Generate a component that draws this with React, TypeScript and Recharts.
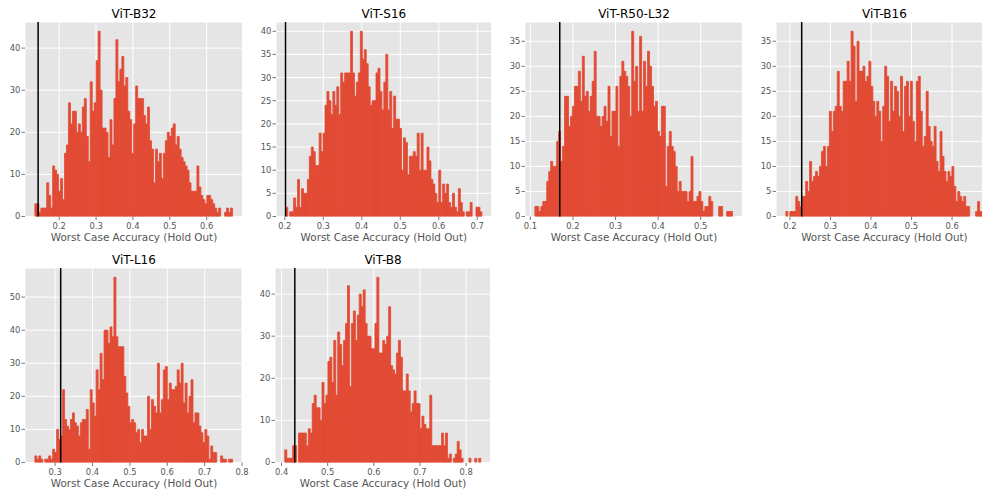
import React from 'react';
import { BarChart, Bar, XAxis, YAxis, CartesianGrid, ReferenceLine } from 'recharts';

const titles = ['ViT-B32', 'ViT-S16', 'ViT-R50-L32', 'ViT-B16', 'ViT-L16', 'ViT-B8'];
const xLabel = 'Worst Case Accuracy (Hold Out)';

// histogram range (first bin left edge, last bin right edge)
const binLow = [0.134, 0.2026, 0.1106, 0.19, 0.246, 0.407];
const binHigh = [0.67, 0.712, 0.5746, 0.6776, 0.7745, 0.8317];
// vertical black reference line
const cutoffs = [0.1428, 0.2018, 0.169, 0.229, 0.315, 0.4287];

const xTickSets = [
  [0.2, 0.3, 0.4, 0.5, 0.6],
  [0.2, 0.3, 0.4, 0.5, 0.6, 0.7],
  [0.1, 0.2, 0.3, 0.4, 0.5],
  [0.2, 0.3, 0.4, 0.5, 0.6],
  [0.3, 0.4, 0.5, 0.6, 0.7, 0.8],
  [0.4, 0.5, 0.6, 0.7, 0.8],
];
const yTickSets = [
  [0, 10, 20, 30, 40],
  [0, 5, 10, 15, 20, 25, 30, 35, 40],
  [0, 5, 10, 15, 20, 25, 30, 35],
  [0, 5, 10, 15, 20, 25, 30, 35],
  [0, 10, 20, 30, 40, 50],
  [0, 10, 20, 30, 40],
];

const countsB32 = [
  3, 3, 1, 2, 2, 2, 8, 5, 2, 12,
  11, 10, 6, 9, 4, 15, 17, 27, 22, 25,
  25, 20, 22, 20, 26, 28, 19, 13, 32, 25,
  27, 37, 44, 30, 21, 21, 20, 14, 23, 17,
  28, 42, 32, 35, 38, 31, 33, 25, 23, 15,
  22, 31, 28, 28, 28, 24, 22, 26, 18, 16,
  8, 16, 13, 15, 9, 15, 18, 20, 19, 21,
  22, 17, 19, 16, 14, 13, 12, 11, 8, 6,
  6, 6, 12, 7, 5, 4, 3, 5, 5, 4,
  3, 2, 1, 2, 0, 0, 1, 2, 1, 2,
];
const countsS16 = [
  2, 0, 1, 1, 4, 2, 8, 2, 6, 5,
  5, 8, 13, 15, 14, 11, 11, 18, 14, 18,
  24, 27, 25, 22, 27, 24, 28, 22, 31, 29,
  31, 31, 31, 40, 31, 26, 29, 31, 40, 34,
  36, 33, 28, 24, 25, 25, 31, 32, 27, 23,
  29, 35, 23, 27, 19, 26, 21, 21, 19, 10,
  17, 16, 9, 13, 13, 14, 13, 18, 10, 18,
  10, 10, 15, 12, 8, 7, 5, 3, 10, 3,
  7, 5, 7, 3, 2, 5, 2, 1, 6, 3,
  1, 0, 1, 1, 3, 0, 0, 2, 2, 1,
];
const countsR50L32 = [
  2, 2, 1, 2, 3, 3, 7, 9, 11, 10,
  10, 15, 17, 11, 14, 24, 24, 18, 20, 22,
  26, 26, 29, 23, 32, 24, 25, 21, 24, 27,
  33, 20, 20, 18, 20, 22, 19, 26, 16, 21,
  21, 26, 14, 28, 31, 29, 28, 26, 20, 37,
  27, 30, 21, 36, 21, 31, 26, 33, 30, 26,
  22, 23, 17, 16, 22, 22, 6, 14, 17, 14,
  13, 10, 5, 7, 5, 5, 5, 3, 5, 12,
  3, 3, 4, 5, 3, 1, 2, 2, 4, 3,
  0, 0, 0, 2, 2, 0, 0, 1, 1, 1,
];
const countsB16 = [
  1, 0, 1, 1, 1, 4, 3, 2, 4, 4,
  7, 5, 11, 7, 8, 9, 8, 10, 13, 14,
  10, 14, 21, 17, 21, 22, 29, 22, 21, 27,
  27, 31, 27, 37, 34, 23, 35, 29, 29, 30,
  27, 28, 31, 26, 23, 20, 23, 21, 15, 22,
  30, 28, 19, 27, 21, 26, 25, 20, 28, 17,
  26, 27, 20, 27, 19, 15, 27, 28, 21, 14,
  16, 25, 18, 15, 14, 18, 11, 9, 17, 12,
  9, 7, 9, 8, 10, 6, 3, 5, 4, 3,
  4, 2, 2, 0, 0, 0, 1, 3, 1, 1,
];
const countsL16 = [
  2, 1, 2, 1, 0, 1, 1, 2, 1, 4,
  3, 10, 7, 8, 22, 13, 11, 10, 13, 15,
  12, 11, 8, 12, 13, 13, 16, 4, 22, 18,
  14, 28, 22, 33, 25, 40, 40, 36, 41, 38,
  56, 38, 35, 35, 35, 26, 21, 17, 12, 13,
  12, 9, 10, 6, 10, 8, 8, 20, 10, 19,
  17, 15, 30, 15, 19, 28, 29, 19, 24, 22,
  22, 23, 28, 24, 30, 18, 24, 15, 20, 25,
  12, 15, 15, 11, 9, 6, 10, 8, 1, 5,
  3, 3, 0, 0, 2, 1, 1, 0, 1, 1,
];
const countsB8 = [
  3, 1, 1, 1, 4, 4, 0, 7, 7, 7,
  7, 4, 8, 7, 14, 16, 13, 13, 10, 19,
  14, 16, 24, 25, 19, 29, 16, 31, 28, 23,
  29, 33, 42, 18, 33, 36, 29, 35, 40, 37,
  41, 33, 30, 30, 27, 27, 33, 44, 26, 26,
  29, 28, 30, 37, 23, 22, 21, 26, 29, 25,
  17, 17, 21, 17, 12, 14, 17, 14, 14, 8,
  11, 9, 8, 8, 16, 4, 4, 4, 4, 4,
  7, 4, 7, 1, 2, 0, 1, 2, 5, 3,
  1, 0, 0, 0, 1, 0, 0, 1, 0, 1,
];
const allCounts = [countsB32, countsS16, countsR50L32, countsB16, countsL16, countsB8];

// layout of plot areas (pixels)
const layout = [
  { left: 25.3, top: 21.7, width: 217.4 },
  { left: 276, top: 21.7, width: 215.7 },
  { left: 525.3, top: 21.7, width: 217.4 },
  { left: 775.7, top: 21.7, width: 217.4 },
  { left: 25.3, top: 267.7, width: 217.4 },
  { left: 275.3, top: 267.7, width: 215.5 },
];
const PLOT_H = 194.5;
const YW = 30;
const MT = 22;
const XH = 30;
const MR = 12;
const FONT = 'DejaVu Sans';
const TICK_COLOR = '#555555';
const BAR_COLOR = '#E24A33';

function Panel({ idx }: { idx: number }) {
  const counts = allCounts[idx];
  const lo = binLow[idx];
  const hi = binHigh[idx];
  const n = counts.length;
  const w = (hi - lo) / n;
  const pad = 5;
  const rows: { i: number; x: number; c: number | null }[] = [];
  for (let j = 0; j < n + 2 * pad; j++) {
    const k = j - pad;
    rows.push({ i: j, x: lo + (k + 0.5) * w, c: k >= 0 && k < n && counts[k] > 0 ? counts[k] : null });
  }
  const span = hi - lo;
  const domain = [lo - 0.05 * span, hi + 0.05 * span];
  const ymax = Math.max(...counts) * 1.05;
  const L = layout[idx];
  return (
    <div style={{ position: 'absolute', left: L.left - YW, top: L.top - MT }}>
      <BarChart
        width={YW + L.width + MR}
        height={MT + PLOT_H + XH}
        data={rows}
        margin={{ top: MT, right: MR, bottom: 0, left: 0 }}
        barCategoryGap={0}
        barGap={0}
        style={{ fontFamily: FONT }}
      >
        <CartesianGrid xAxisId="num" yAxisId="y" fill="#E5E5E5" fillOpacity={1} stroke="#FFFFFF" strokeWidth={1} />
        <XAxis
          xAxisId="num"
          dataKey="x"
          type="number"
          domain={domain}
          ticks={xTickSets[idx]}
          allowDataOverflow
          height={XH}
          axisLine={false}
          tickSize={3.5}
          tickMargin={3.2}
          tickLine={{ stroke: TICK_COLOR, strokeWidth: 0.8 }}
          tick={{ fontSize: 8.4, fill: TICK_COLOR, fontFamily: FONT }}
          tickFormatter={(v: number) => v.toFixed(1)}
          interval={0}
        />
        <XAxis xAxisId="cat" dataKey="i" type="category" hide height={0} />
        <YAxis
          yAxisId="y"
          type="number"
          domain={[0, ymax]}
          ticks={yTickSets[idx]}
          allowDataOverflow
          width={YW}
          axisLine={false}
          tickSize={3.5}
          tickMargin={1.2}
          tickLine={{ stroke: TICK_COLOR, strokeWidth: 0.8 }}
          tick={{ fontSize: 8.4, fill: TICK_COLOR, fontFamily: FONT }}
          interval={0}
        />
        <Bar
          xAxisId="cat"
          yAxisId="y"
          dataKey="c"
          fill={BAR_COLOR}
          stroke={BAR_COLOR}
          strokeWidth={0.8}
          isAnimationActive={false}
        />
        <ReferenceLine xAxisId="num" yAxisId="y" x={cutoffs[idx]} stroke="#000000" strokeWidth={1.5} />
      </BarChart>
    </div>
  );
}

export default function App() {
  return (
    <div
      style={{
        position: 'absolute',
        left: 0,
        top: 0,
        width: 982,
        height: 491,
        overflow: 'hidden',
        background: '#ffffff',
        fontFamily: FONT,
      }}
    >
      {titles.map((_, i) => (
        <Panel key={i} idx={i} />
      ))}
      <svg width={982} height={491} style={{ position: 'absolute', left: 0, top: 0, pointerEvents: 'none' }}>
        {layout.map((L, i) => (
          <g key={i}>
            <text x={L.left + L.width / 2} y={L.top - 4.2} textAnchor="middle" fontSize={12} fill="#000000" fontFamily={FONT}>
              {titles[i]}
            </text>
            <text x={L.left + L.width / 2} y={L.top + PLOT_H + 24.8} textAnchor="middle" fontSize={10.4} fill={TICK_COLOR} fontFamily={FONT}>
              {xLabel}
            </text>
          </g>
        ))}
      </svg>
    </div>
  );
}
